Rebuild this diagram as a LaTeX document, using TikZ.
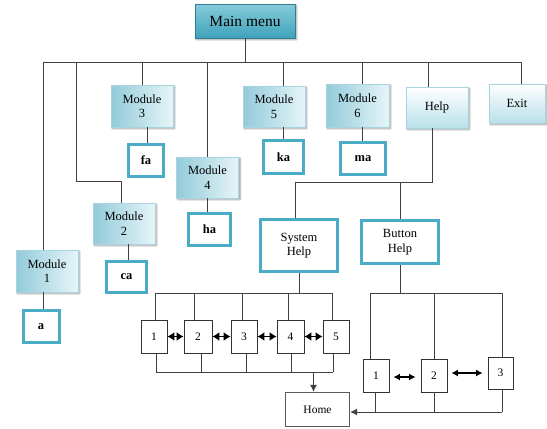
\documentclass[tikz,border=0pt]{standalone}
\usepackage{fontspec}
\setmainfont{Liberation Serif}
\usetikzlibrary{positioning, arrows.meta, shadows.blur}
\definecolor{tealedge}{HTML}{4BACC6}
\definecolor{modleft}{HTML}{93CBDA}
\definecolor{modright}{HTML}{E6F5F8}
\definecolor{modedge}{HTML}{A8D4DF}
\definecolor{menubot}{HTML}{B9E0EA}
\definecolor{maintop}{HTML}{86CCDB}
\definecolor{mainbot}{HTML}{3FA2BA}
\definecolor{mainedge}{HTML}{2E7F92}

\begin{document}
\begin{tikzpicture}[x=1pt, y=-1pt,
        module/.style = {draw=modedge, left color=modleft, right color=modright, blur shadow={shadow xshift=1.5pt, shadow yshift=-1.5pt, shadow blur steps=4, shadow opacity=45}, align=center, inner sep=0pt, minimum width=62pt, minimum height=41pt, font=\fontsize{12.5}{14.5}\selectfont},
        menu/.style = {module, top color=white, bottom color=menubot},
        mainbox/.style = {module, top color=maintop, bottom color=mainbot, draw=mainedge, minimum width=100pt, minimum height=34pt, font=\fontsize{15.5}{17}\selectfont},
        leaf/.style = {draw=tealedge, line width=3pt, fill=white, align=center, inner sep=0pt, font=\fontsize{12.5}{14.5}\selectfont\bfseries},
        helpbox/.style = {leaf, minimum width=77pt, font=\fontsize{12.5}{14.5}\selectfont},
        numbox/.style = {draw=black!80, line width=0.8pt, fill=white, inner sep=0pt, minimum width=26pt, minimum height=33pt, font=\fontsize{11.5}{13}\selectfont},
        conn/.style = {draw=black!75, line width=1pt},
        dbl/.style = {draw=black, line width=1.2pt, {Latex[length=7pt,width=9pt]}-{Latex[length=7pt,width=9pt]}},
        link/.style = {draw=black, line width=1.2pt, {Latex[length=6.5pt,width=7pt]}-{Latex[length=6.5pt,width=7pt]}, shorten <=4pt, shorten >=5pt},
    ]
        \useasboundingbox (0,0) rectangle (547,429);

        \node[mainbox] (mm) at (245,21) {Main menu};

        \node[module, minimum height=42pt] (m1) at (47,271) {Module\\1};
        \node[module] (m2) at (124,223.5) {Module\\2};
        \node[module, minimum height=42pt] (m3) at (142,106) {Module\\3};
        \node[module] (m4) at (207.5,177.5) {Module\\4};
        \node[module] (m5) at (274,106.5) {Module\\5};
        \node[module, minimum width=63pt, minimum height=43pt] (m6) at (357.5,105.5) {Module\\6};
        \node[menu] (help) at (437,107.5) {Help};
        \node[menu, minimum width=56pt, minimum height=39pt] (exit) at (517,103.5) {Exit};

        \node[leaf, minimum width=36pt, minimum height=32pt] (a) at (41,326.5) {a};
        \node[leaf, minimum width=40pt, minimum height=31pt] (ca) at (126.5,277) {ca};
        \node[leaf, minimum width=35pt, minimum height=32pt] (fa) at (146,160) {fa};
        \node[leaf, minimum width=42pt, minimum height=32pt] (ha) at (209.5,229.5) {ha};
        \node[leaf, minimum width=40pt, minimum height=33pt] (ka) at (283.5,157) {ka};
        \node[leaf, minimum width=45pt, minimum height=32pt] (ma) at (363,158.5) {ma};

        \node[helpbox, minimum height=52pt] (syshelp) at (299,245.5) {System\\Help};
        \node[helpbox, minimum height=43pt] (btnhelp) at (400,242) {Button\\Help};

        \node[numbox] (s1) at (154,336.5) {1};
        \node[numbox, minimum width=28pt] (s2) at (198,336.5) {2};
        \node[numbox] (s3) at (244,336.5) {3};
        \node[numbox, minimum width=27pt] (s4) at (290.5,336.5) {4};
        \node[numbox] (s5) at (336,336.5) {5};

        \node[numbox] (b1) at (376,375.5) {1};
        \node[numbox] (b2) at (434,375.5) {2};
        \node[numbox, minimum width=25pt, minimum height=32pt] (b3) at (500.5,373) {3};

        \node[numbox, draw=black!65, line width=1.3pt, minimum width=64pt, minimum height=34pt] (home) at (317.5,409.5) {Home};

        % main menu bus
        \coordinate (busL) at (43,62);
        \coordinate (busR) at (521,62);
        \coordinate (t2) at (76,62);
        \draw[conn] (mm.south) -- (mm.south |- busL);
        \draw[conn] (busL) -- (busR);
        \draw[conn] (busL) -- (busL |- m1.north);
        \draw[conn] (busL |- m1.south) -- (busL |- a.north);
        \draw[conn] (t2) -- ++(0,119) -| ([xshift=-3pt]m2.north);
        \draw[conn] ([xshift=1.5pt]ca.north) -- ([xshift=1.5pt]ca.north |- m2.south);
        \draw[conn] (m3.north) -- (m3.north |- busL);
        \draw[conn] ([xshift=1pt]fa.north) -- ([xshift=1pt]fa.north |- m3.south);
        \draw[conn] (m4.north) -- (m4.north |- busL);
        \draw[conn] (m4.south) -- (m4.south |- ha.north);
        \draw[conn] (ka.north |- busL) -- (ka.north |- m5.north);
        \draw[conn] (ka.north) -- (ka.north |- m5.south);
        \draw[conn] ([xshift=-1pt]ma.north |- busL) -- ([xshift=-1pt]ma.north |- m6.north);
        \draw[conn] ([xshift=-1pt]ma.north) -- ([xshift=-1pt]ma.north |- m6.south);
        \draw[conn] ([xshift=-9pt]help.north) -- ([xshift=-9pt]help.north |- busL);
        \draw[conn] (busR) -- (busR |- exit.north);

        % help branch
        \coordinate (hj) at (432,182);
        \draw[conn] ([xshift=-5pt]help.south) -- (hj) -| ([xshift=-4pt]syshelp.north);
        \draw[conn] (btnhelp.north) -- (btnhelp.north |- hj);

        % system help row
        \coordinate (sTL) at (155,293);
        \coordinate (sTR) at (332,293);
        \coordinate (sBL) at (156,372);
        \coordinate (sBR) at (333,372);
        \draw[conn] (syshelp.south) -- (syshelp.south |- sTL);
        \draw[conn] (sTL) -- (sTR);
        \draw[conn] (sBL) -- (sBR);
        \foreach \n/\dt/\db in {s1/1/2, s2/-4/3, s3/-2/2, s4/-2.5/0.5, s5/-4/-3} {
            \draw[conn] ([xshift=\dt pt]\n.north) -- ([xshift=\dt pt]\n.north |- sTL);
            \draw[conn] ([xshift=\db pt]\n.south) -- ([xshift=\db pt]\n.south |- sBL);
        }
        \foreach \p/\q in {s1/s2, s2/s3, s3/s4, s4/s5}
            \draw[dbl] (\p.east) -- (\q.west);
        \draw[conn, -{Latex[length=7pt,width=7pt]}] ([xshift=-4pt]home.north |- sBL) -- ([xshift=-4pt]home.north);

        % button help row
        \coordinate (bTL) at (370,293);
        \coordinate (bTR) at (502,293);
        \coordinate (bBL) at (375,412);
        \coordinate (bBR) at (502,412);
        \draw[conn] (btnhelp.south) -- (btnhelp.south |- bTL);
        \draw[conn] (bTL) -- (bTR);
        \draw[conn] (bTL) -- (bTL |- b1.north);
        \draw[conn] (b2.north |- bTL) -- (b2.north);
        \draw[conn] (bTR) -- (bTR |- b3.north);
        \draw[conn] (bBL |- b1.south) -- (bBL);
        \draw[conn] (b2.south) -- (b2.south |- bBR);
        \draw[conn] (bBR |- b3.south) -- (bBR);
        \draw[conn, -{Latex[length=7pt,width=7pt]}] (bBR) -- (bBR -| home.east);
        \draw[link] ([yshift=-1.5pt]b1.east) -- ([yshift=-1.5pt]b1.east -| b2.west);
        \draw[link] (b2.east |- b3.west) -- (b3.west);
    \end{tikzpicture}
\end{document}
